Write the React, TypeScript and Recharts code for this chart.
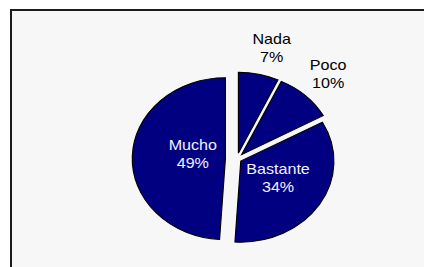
import { PieChart, Pie, Cell } from 'recharts'

const categories = ['Nada', 'Poco', 'Bastante', 'Mucho']
const shares = [7, 10, 34, 49]

const data = categories.map((name, i) => ({ name, value: shares[i] }))

// the reference is stretched wider than tall, so the chart is drawn narrow and scaled
const STRETCH = 1.15
const CX = 201
const CY = 154
const R = 81
const explode = [6, 6, 4, 10]
const labelDist = [R + 29, R + 29, 0.43 * R, 0.35 * R]
const labelNudge = [
  [5, 2],
  [0, 0],
  [3, -2],
  [0, -4],
]
const RADIAN = Math.PI / 180

const total = shares.reduce((a, b) => a + b, 0)
// recharts angle of each slice centre (start 90, clockwise)
const midAngles = shares.map((v, i) => {
  const before = shares.slice(0, i).reduce((a, b) => a + b, 0)
  return 90 - ((before + v / 2) / total) * 360
})

function sliceLabel(own: number) {
  return (p: any) => {
    if (p.index !== own) return null
    const a = p.midAngle * RADIAN
    const d = labelDist[own]
    const x = p.cx + d * Math.cos(a) + labelNudge[own][0]
    const y = p.cy - d * Math.sin(a) + labelNudge[own][1]
    const inside = own >= 2
    return (
      <text
        x={x}
        y={y}
        textAnchor="middle"
        fill={inside ? '#f2f2ff' : '#000'}
        fontSize={14}
        fontFamily="'Liberation Sans', Arial, sans-serif"
      >
        <tspan x={x} y={y - 4}>{p.name}</tspan>
        <tspan x={x} y={y + 14}>{`${p.value}%`}</tspan>
      </text>
    )
  }
}

export default function App() {
  return (
    <div style={{ position: 'absolute', left: 0, top: 0, width: 424, height: 267, overflow: 'hidden', background: '#fff' }}>
      <div
        style={{
          position: 'absolute',
          left: 10,
          top: 9,
          width: 440,
          height: 290,
          border: '2px solid #1c1c1c',
          background: '#f7f7f7',
        }}
      />
      <div style={{ position: 'absolute', left: 0, top: 0, transform: `scaleX(${STRETCH})`, transformOrigin: '0 0' }}>
        <PieChart width={369} height={267}>
          {categories.map((c, i) => {
            const a = midAngles[i] * RADIAN
            return (
              <Pie
                key={c}
                data={data}
                dataKey="value"
                nameKey="name"
                cx={CX + explode[i] * Math.cos(a)}
                cy={CY - explode[i] * Math.sin(a)}
                outerRadius={R}
                startAngle={90}
                endAngle={-270}
                isAnimationActive={false}
                labelLine={false}
                label={sliceLabel(i)}
              >
                {data.map((d, j) => (
                  <Cell
                    key={d.name}
                    fill={j === i ? '#000080' : 'none'}
                    stroke={j === i ? '#000' : 'none'}
                    strokeWidth={1}
                  />
                ))}
              </Pie>
            )
          })}
        </PieChart>
      </div>
    </div>
  )
}
